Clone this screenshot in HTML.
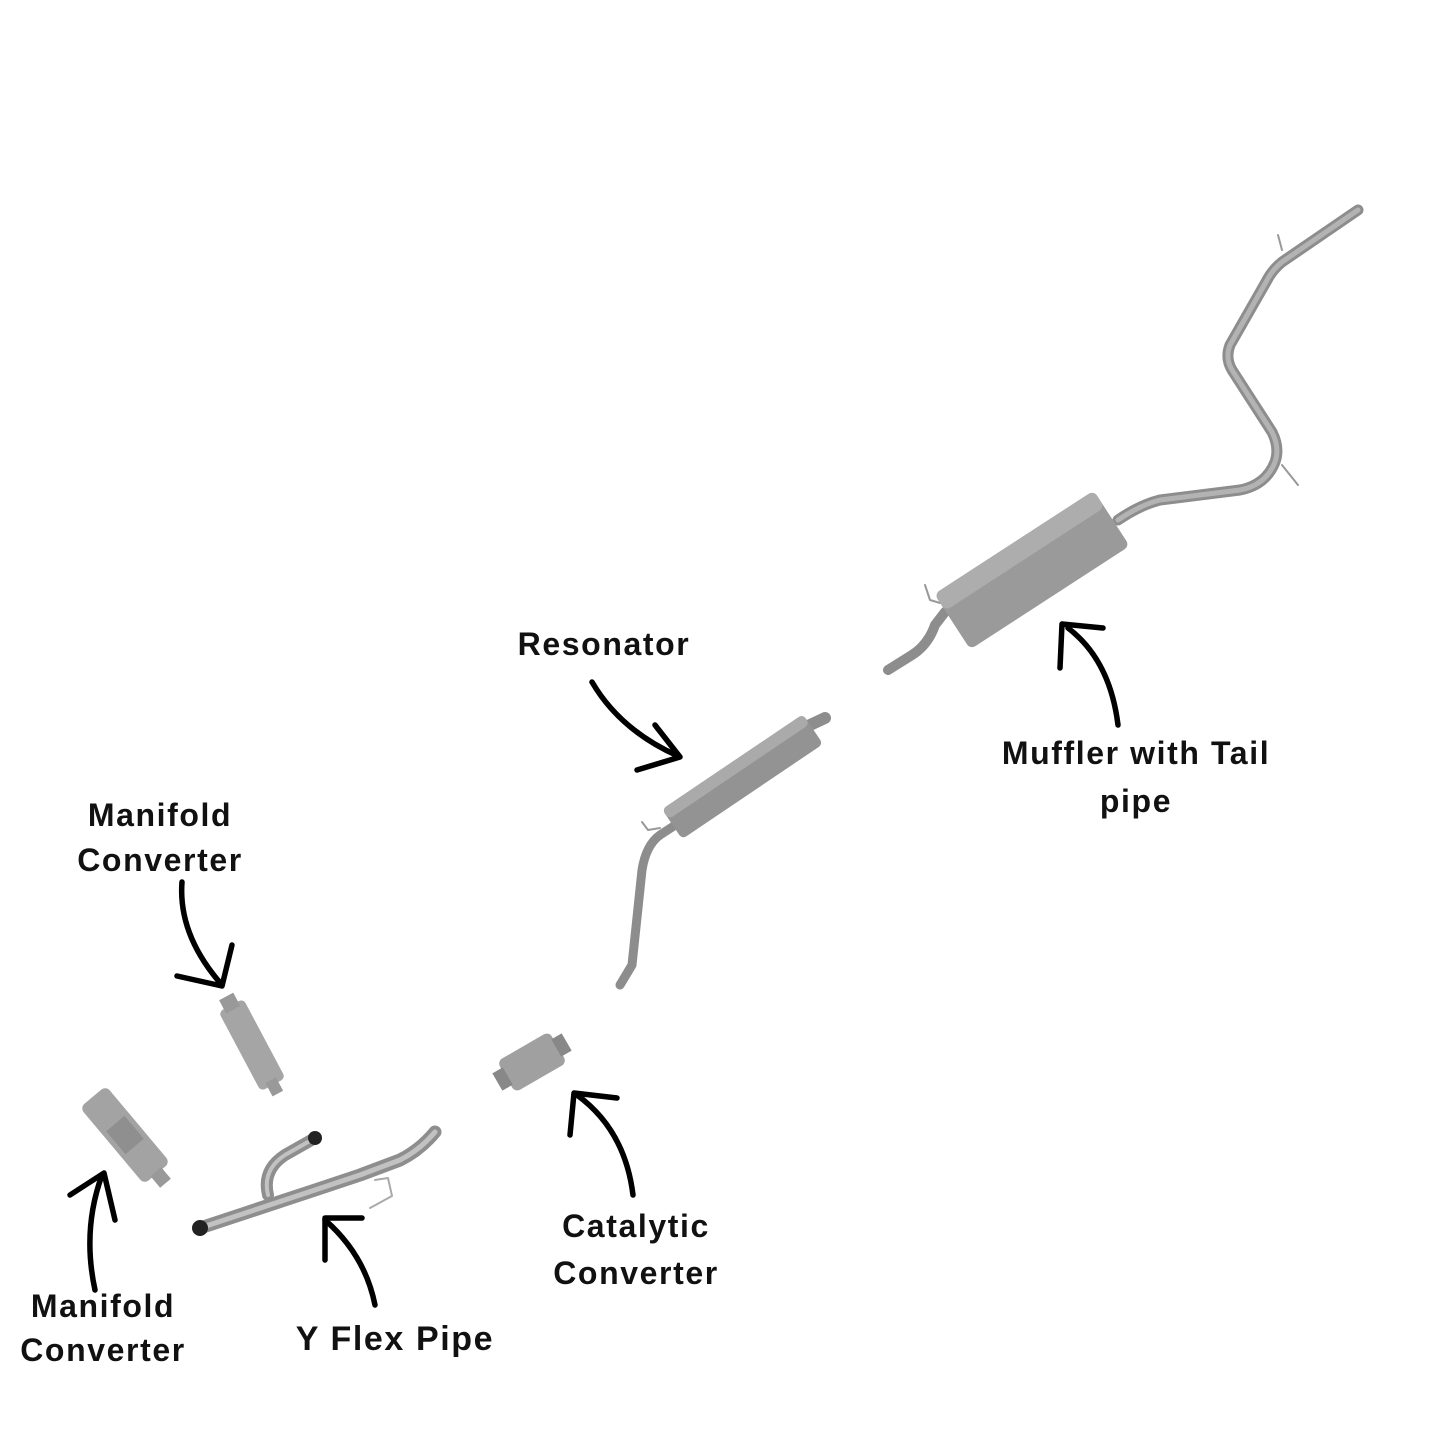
<!DOCTYPE html>
<html><head><style>
html,body{margin:0;padding:0;background:#fff;}
svg{display:block;}
text{font-family:"Liberation Sans",sans-serif;font-weight:bold;font-size:32px;fill:#111;text-anchor:middle;letter-spacing:1.6px;}
</style></head><body>
<svg width="1445" height="1445" viewBox="0 0 1445 1445" xmlns="http://www.w3.org/2000/svg">
<g fill="none" stroke-linecap="round" stroke-linejoin="round">
<path d="M1358 210 L1282 262 Q1272 270 1266 282 L1230 345 Q1225 358 1232 370 L1272 432 Q1280 448 1275 462 Q1266 485 1240 490 L1160 500 Q1140 505 1118 520" stroke="#8d8d8d" stroke-width="11"/>
<path d="M1358 210 L1282 262 Q1272 270 1266 282 L1230 345 Q1225 358 1232 370 L1272 432 Q1280 448 1275 462 Q1266 485 1240 490 L1160 500 Q1140 505 1118 520" stroke="#b3b3b3" stroke-width="5"/>
<path d="M1278 235 L1282 250 M1282 465 L1298 485" stroke="#999" stroke-width="2"/>
<path d="M888 670 L912 655 Q928 645 935 625 L945 612" stroke="#8d8d8d" stroke-width="10"/>
<path d="M925 585 L930 600 L940 603" stroke="#999" stroke-width="2"/>
<path d="M620 985 L632 965 L642 870 Q646 845 660 835 L680 822" stroke="#8d8d8d" stroke-width="9"/>
<path d="M642 822 L648 830 L660 828" stroke="#999" stroke-width="2"/>
<path d="M810 725 L825 718" stroke="#8d8d8d" stroke-width="12"/>
<path d="M200 1228 L315 1190 L360 1175 L400 1160 Q420 1150 435 1132" stroke="#8e8e8e" stroke-width="13"/>
<path d="M200 1228 L315 1190 L360 1175 L400 1160 Q420 1150 435 1132" stroke="#c2c2c2" stroke-width="5"/>
<path d="M268 1195 Q262 1170 285 1155 L315 1138" stroke="#8e8e8e" stroke-width="12"/>
<path d="M268 1195 Q262 1170 285 1155 L315 1138" stroke="#c2c2c2" stroke-width="4"/>
<path d="M375 1180 L388 1178 L392 1196 L370 1208" stroke="#aaa" stroke-width="2"/>
<g stroke="#000" stroke-width="5.5">
<path d="M592 682 Q620 730 678 756"/><path d="M655 725 L680 757 L637 770"/>
<path d="M1118 725 Q1110 660 1068 628"/><path d="M1060 668 L1062 624 L1103 628"/>
<path d="M182 882 Q178 935 222 985"/><path d="M177 976 L222 986 L232 945"/>
<path d="M633 1195 Q625 1130 577 1095"/><path d="M570 1135 L574 1093 L617 1098"/>
<path d="M95 1290 Q82 1230 102 1175"/><path d="M70 1195 L104 1173 L115 1220"/>
<path d="M375 1305 Q365 1255 325 1220"/><path d="M325 1260 L325 1218 L362 1218"/>
</g>
</g>
<g transform="translate(1032,570) rotate(-33)">
<rect x="-95" y="-33" width="190" height="66" rx="6" fill="#9a9a9a"/>
<rect x="-95" y="-33" width="190" height="20" rx="6" fill="#adadad"/>
</g>
<g transform="translate(745,775) rotate(-34)">
<rect x="-88" y="-18" width="170" height="36" rx="5" fill="#939393"/>
<rect x="-88" y="-18" width="170" height="12" rx="5" fill="#aaa"/>
</g>
<g transform="translate(532,1062) rotate(-30)">
<rect x="-30" y="-18" width="60" height="36" rx="6" fill="#a0a0a0"/>
<rect x="-40" y="-10" width="12" height="20" fill="#888"/>
<rect x="28" y="-10" width="12" height="20" fill="#888"/>
</g>
<g transform="translate(252,1045) rotate(62)">
<rect x="-45" y="-14" width="90" height="28" rx="5" fill="#a5a5a5"/>
<rect x="-55" y="-8" width="15" height="16" fill="#999"/>
<rect x="40" y="-6" width="15" height="12" fill="#999"/>
</g>
<g transform="translate(125,1135) rotate(50)">
<rect x="-50" y="-17" width="100" height="34" rx="6" fill="#a3a3a3"/>
<rect x="-15" y="-12" width="30" height="24" fill="#8f8f8f"/>
<rect x="48" y="-7" width="15" height="14" fill="#999"/>
</g>
<circle cx="200" cy="1228" r="8" fill="#222"/>
<circle cx="315" cy="1138" r="7" fill="#222"/>
<text x="604" y="655">Resonator</text>
<text x="1136" y="764">Muffler with Tail</text>
<text x="1136" y="812">pipe</text>
<text x="160" y="826">Manifold</text>
<text x="160" y="871">Converter</text>
<text x="636" y="1237">Catalytic</text>
<text x="636" y="1284">Converter</text>
<text x="103" y="1317">Manifold</text>
<text x="103" y="1361">Converter</text>
<text x="395" y="1350" style="font-size:34px">Y Flex Pipe</text>
</svg>
</body></html>
